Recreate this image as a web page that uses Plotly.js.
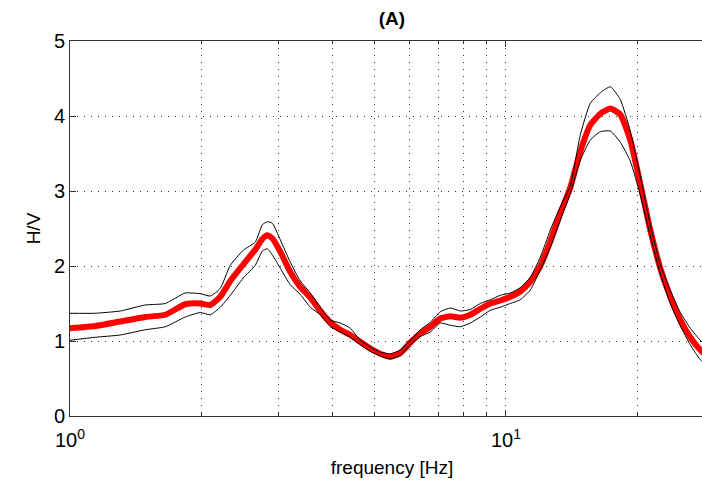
<!DOCTYPE html>
<html>
<head>
<meta charset="utf-8">
<script src="https://cdn.plot.ly/plotly-3.0.1.min.js"></script>
<style>
html,body{margin:0;padding:0;overflow:hidden;background:#fff;}
#chart{width:760px;height:483px;}
</style>
</head>
<body>
<div id="chart"></div>
<script>
// Frequency samples [Hz]
var freq = [1.000,1.143,1.304,1.488,1.654,1.838,1.990,2.098,2.211,2.332,2.497,2.661,2.761,2.835,2.911,3.036,3.201,3.375,3.558,3.751,3.954,4.169,4.395,4.633,4.885,5.150,5.429,5.723,6.034,6.361,6.706,7.070,7.453,7.858,8.284,8.733,9.205,9.703,10.23,10.78,11.37,11.99,12.64,13.32,14.05,14.81,15.61,16.46,17.35,18.29,19.28,20.32,21.43,22.59,23.81,25.11,26.47,27.90,29.70];
// Mean H/V curve (red)
var hvMean = [1.17,1.20,1.26,1.32,1.35,1.49,1.50,1.48,1.59,1.80,2.02,2.22,2.36,2.41,2.37,2.19,1.92,1.72,1.58,1.40,1.25,1.15,1.08,0.99,0.90,0.83,0.79,0.84,0.98,1.10,1.19,1.30,1.33,1.31,1.35,1.43,1.50,1.54,1.59,1.66,1.79,2.00,2.33,2.70,3.05,3.53,3.88,4.03,4.10,4.02,3.68,3.10,2.48,1.97,1.59,1.28,1.05,0.88,0.74];
// Mean + std (upper black)
var hvUpper = [1.37,1.37,1.40,1.48,1.50,1.64,1.63,1.60,1.70,2.01,2.21,2.32,2.55,2.59,2.57,2.35,2.05,1.80,1.64,1.45,1.28,1.24,1.17,1.01,0.92,0.85,0.83,0.88,1.01,1.15,1.25,1.39,1.44,1.40,1.42,1.50,1.55,1.61,1.64,1.71,1.85,2.12,2.48,2.79,3.07,3.75,4.17,4.31,4.39,4.22,3.80,3.20,2.55,2.02,1.68,1.38,1.17,1.01,0.87];
// Mean - std (lower black)
var hvLower = [1.01,1.05,1.08,1.15,1.19,1.32,1.38,1.35,1.45,1.61,1.84,2.01,2.20,2.23,2.15,1.97,1.75,1.62,1.45,1.35,1.19,1.12,1.05,0.95,0.86,0.80,0.76,0.81,0.95,1.06,1.12,1.24,1.21,1.19,1.24,1.32,1.41,1.45,1.50,1.55,1.68,1.95,2.25,2.61,2.97,3.41,3.68,3.79,3.80,3.65,3.40,2.95,2.40,1.90,1.50,1.20,0.95,0.75,0.62];

var majorTickVals = [1, 10];
var majorTickText = ['10<sup>0</sup>', '10<sup>1</sup>'];
var minorTickVals = [2,3,4,5,6,7,8,9,20,30];
var yTickVals = [0,1,2,3,4,5];
var xMax = 30;

var traces = [
  {x: freq, y: hvMean, mode: 'lines', line: {color: '#ff0000', width: 6, shape: 'spline', smoothing: 0.5}, hoverinfo: 'skip'},
  {x: freq, y: hvUpper, mode: 'lines', line: {color: '#000000', width: 1, shape: 'spline', smoothing: 0.5}, hoverinfo: 'skip'},
  {x: freq, y: hvLower, mode: 'lines', line: {color: '#000000', width: 1, shape: 'spline', smoothing: 0.5}, hoverinfo: 'skip'}
];

var gridDash = '1px,6px';
var axisColor = '#333333';
var gridColor = '#333333';

var layout = {
  width: 760, height: 483,
  margin: {l: 70, r: 46, t: 41, b: 67},
  paper_bgcolor: '#ffffff', plot_bgcolor: '#ffffff',
  font: {family: 'Arial, "Liberation Sans", sans-serif', size: 19, color: '#000'},
  showlegend: false,
  title: {text: '<b>(A)</b>', font: {size: 19, color: '#000'}, x: 0.5, xref: 'paper', xanchor: 'center', y: 0.961, yref: 'container', yanchor: 'middle'},
  xaxis: {
    type: 'log', range: [0, Math.log10(xMax)],
    tickmode: 'array', tickvals: majorTickVals, ticktext: majorTickText,
    ticks: 'inside', ticklen: 6, tickcolor: axisColor, tickwidth: 1,
    showline: true, linecolor: axisColor, linewidth: 1, mirror: 'ticks',
    showgrid: true, gridcolor: gridColor, gridwidth: 1, griddash: gridDash,
    zeroline: false,
    tickfont: {size: 20, color: '#000'},
    ticklabelstandoff: 6,
    minor: {tickmode: 'array', tickvals: minorTickVals, ticks: 'inside', ticklen: 3, tickcolor: axisColor, showgrid: true, gridcolor: gridColor, gridwidth: 1, griddash: gridDash},
    title: {text: 'frequency [Hz]', font: {size: 19, color: '#000'}, standoff: 10}
  },
  yaxis: {
    range: [0, 5],
    tickmode: 'array', tickvals: yTickVals,
    ticks: 'inside', ticklen: 6, tickcolor: axisColor, tickwidth: 1,
    showline: true, linecolor: axisColor, linewidth: 1, mirror: 'ticks',
    showgrid: true, gridcolor: gridColor, gridwidth: 1, griddash: gridDash,
    zeroline: false,
    tickfont: {size: 20, color: '#000'},
    title: {text: 'H/V', font: {size: 19, color: '#000'}, standoff: 8}
  }
};

Plotly.newPlot('chart', traces, layout, {displayModeBar: false, staticPlot: true});
</script>
</body>
</html>
